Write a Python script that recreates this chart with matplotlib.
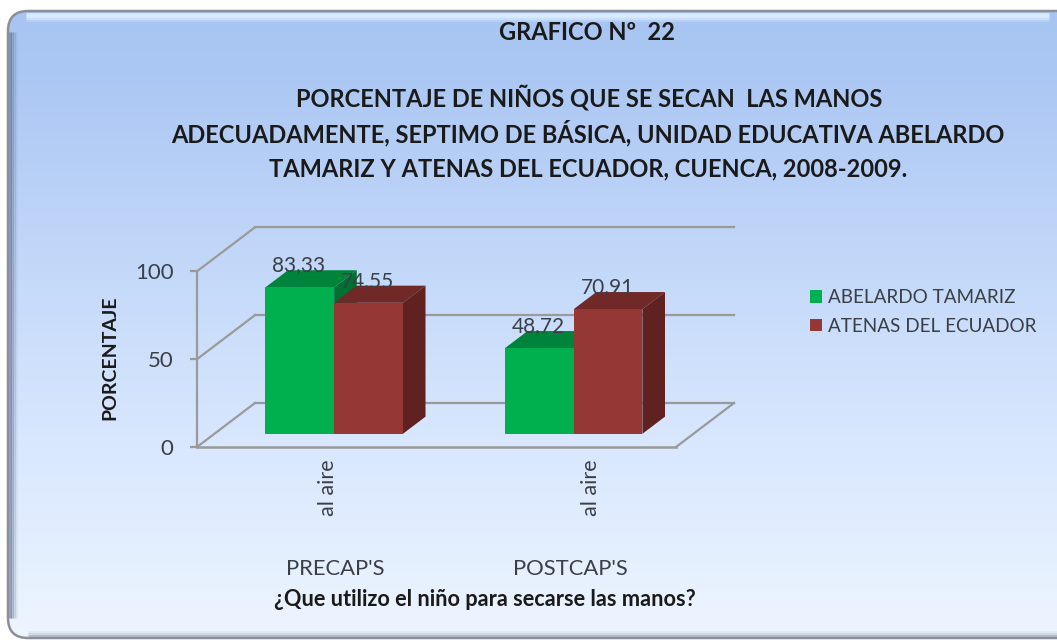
"""Grafico 22: hand washing survey, faux 3D bars on a glossy rounded panel."""

import numpy as np
import matplotlib

matplotlib.use("Agg")
import matplotlib.pyplot as plt
from matplotlib.colors import LinearSegmentedColormap
from matplotlib.patches import FancyBboxPatch, Polygon

# -- Data ---------------------------------------------------------------------

GROUPS = ["PRECAP'S", "POSTCAP'S"]
CATEGORY = "al aire"
SERIES = ["ABELARDO TAMARIZ", "ATENAS DEL ECUADOR"]
TAMARIZ = [83.33, 48.72]
ATENAS = [74.55, 70.91]
YTICKS = [0, 50, 100]
TITLE_TOP = "GRAFICO Nº  22"
TITLE_LINES = [
    "PORCENTAJE DE NIÑOS QUE SE SECAN  LAS MANOS",
    "ADECUADAMENTE, SEPTIMO DE BÁSICA, UNIDAD EDUCATIVA ABELARDO",
    "TAMARIZ Y ATENAS DEL ECUADOR, CUENCA, 2008-2009.",
]
YLABEL = "PORCENTAJE"
XLABEL = "¿Que utilizo el niño para secarse las manos?"

# -- Style --------------------------------------------------------------------

W, H = 1057, 640
GREEN = ("#00B04F", "#00843B", "#006F32")
RED = ("#953735", "#702927", "#5F2220")
GRID = "#9A9A9A"
TEXT = "#3A3F48"
DARK = "#1A1A1A"
BAR_W = 0.287
PX_X = 239.5  # pixels per category
PX_Y = 1.757  # pixels per percentage point
DEPTH_X = 58 / PX_X
DEPTH_Y = 44 / PX_Y
BAR_NEAR = 0.30
BAR_FAR = 0.69

plt.rcParams["font.family"] = ["Lato", "DejaVu Sans"]


def px(x, y):
    return x / W, 1 - y / H


def depth(x, v, d):
    return x + d * DEPTH_X, v + d * DEPTH_Y


def draw_bar(ax, x, value, colors, zorder, label):
    left, right = x, x + BAR_W
    fx, fy = depth(left, 0, BAR_NEAR)
    ax.bar(fx, value, BAR_W, align="edge", bottom=fy, color=colors[0], clip_on=False,
           zorder=zorder + 1, label=label, linewidth=0)
    top = [depth(left, value, BAR_NEAR), depth(right, value, BAR_NEAR),
           depth(right, value, BAR_FAR), depth(left, value, BAR_FAR)]
    side = [depth(right, 0, BAR_NEAR), depth(right, value, BAR_NEAR),
            depth(right, value, BAR_FAR), depth(right, 0, BAR_FAR)]
    ax.add_patch(Polygon(top, color=colors[1], lw=0, clip_on=False, zorder=zorder))
    ax.add_patch(Polygon(side, color=colors[2], lw=0, clip_on=False, zorder=zorder))


fig = plt.figure(figsize=(W / 100, H / 100), dpi=100, facecolor="white")

# Panel with vertical gradient, it runs off the right edge of the picture
bg = fig.add_axes([0, 0, 1, 1], zorder=0)
bg.set_xlim(0, W)
bg.set_ylim(H, 0)
bg.axis("off")
cmap = LinearSegmentedColormap.from_list(
    "panel", [(0, "#A8C4F1"), (0.1, "#ABC7F3"), (0.35, "#BFD5F8"), (0.7, "#D9E8FE"), (1, "#EDF5FF")])
grad = bg.imshow(np.linspace(0, 1, 256)[:, None], cmap=cmap, aspect="auto",
                 extent=(8, W, 638, 10), zorder=1)
bg.set_xlim(0, W)
bg.set_ylim(H, 0)
outline = FancyBboxPatch((8, 11), W + 30, 627, boxstyle="round,pad=0,rounding_size=20",
                         fc="none", ec="#8C8F98", lw=1.8, zorder=4)
bg.add_patch(outline)
grad.set_clip_path(outline)

# Bevel: light band on top, soft shade on the left and bottom
for y, alpha in zip((14, 16, 18, 20), (0.9, 0.9, 0.6, 0.3)):
    bg.plot([26, W - 8], [y, y], color="#DDEEFF", lw=2, alpha=alpha, zorder=3,
            solid_capstyle="butt")
for xs, alpha in zip((10, 12, 14, 16), (0.6, 0.4, 0.22, 0.1)):
    bg.plot([xs, xs], [32, 618], color="#5E6F92", lw=2, alpha=alpha, zorder=3,
            solid_capstyle="butt")
for y, alpha in zip((636, 634, 632), (0.35, 0.18, 0.08)):
    bg.plot([28, W], [y, y], color="#6A7080", lw=2, alpha=alpha, zorder=3,
            solid_capstyle="butt")

# Plot: front plane of the 3D box
ax = fig.add_axes([197 / W, 1 - 447 / H, 479 / W, 175.7 / H], zorder=2)
ax.patch.set_alpha(0)
ax.set_xlim(-0.5, 1.5)
ax.set_ylim(0, 100)
x = np.arange(len(GROUPS))

for s in ["top", "right", "bottom"]:
    ax.spines[s].set_visible(False)
ax.spines["left"].set_color(GRID)
ax.spines["left"].set_linewidth(1.6)
ax.set_yticks(YTICKS)
ax.tick_params(axis="y", length=5, width=1.6, color=GRID, labelsize=16, labelcolor=TEXT, pad=12)
ax.set_xticks([])

# Back wall, side wall, floor
x0, x1 = ax.get_xlim()
for v in YTICKS:
    bx, by = depth(x0, v, 1)
    ex, _ = depth(x1, v, 1)
    ax.plot([x0, bx], [v, by], color=GRID, lw=1.6, clip_on=False, zorder=1)
    ax.plot([bx, ex], [by, by], color=GRID, lw=1.6, clip_on=False, zorder=1)
ax.plot([x0, x1], [0, 0], color=GRID, lw=1.8, clip_on=False, zorder=1)
ax.plot([x1, depth(x1, 0, 1)[0]], [0, depth(x1, 0, 1)[1]], color=GRID, lw=1.6,
        clip_on=False, zorder=1)

# Bars and value labels
for vals, cols, name, shift, z in [(TAMARIZ, GREEN, SERIES[0], -BAR_W, 3),
                                   (ATENAS, RED, SERIES[1], 0, 5)]:
    for i, val in enumerate(vals):
        draw_bar(ax, x[i] + shift, val, cols, z, name if i == 0 else None)
        ax.annotate(f"{val:.2f}".replace(".", ","),
                    depth(x[i] + shift + BAR_W / 2, val, BAR_NEAR),
                    xytext=(-1, 22), textcoords="offset pixels", ha="center", va="center",
                    fontsize=15, color=TEXT, zorder=8, annotation_clip=False)

# Category and group labels
for i, off in zip(x, (11, 35)):
    ax.annotate(CATEGORY, (x[i], 0), xytext=(off, -41), textcoords="offset pixels",
                rotation=90, ha="center", va="center", fontsize=15.5, color=TEXT,
                annotation_clip=False)
for i, off in zip(x, (18, 14)):
    ax.annotate(GROUPS[i], (x[i], 0), xytext=(off, -122), textcoords="offset pixels",
                ha="center", va="center", fontsize=15.8, color=TEXT, annotation_clip=False)

ax.legend(loc="upper left", bbox_to_anchor=px(810, 289), bbox_transform=fig.transFigure,
          frameon=False, fontsize=13.6, labelcolor=TEXT, handlelength=0.63, handleheight=0.63,
          handletextpad=0.32, labelspacing=0.62, borderpad=0, borderaxespad=0)

# Titles and axis names
fig.text(*px(587, 32), TITLE_TOP, ha="center", va="center", fontsize=17,
         fontweight="bold", color=DARK)
for txt, cx, cy in zip(TITLE_LINES, (589, 588, 588), (98, 133, 169)):
    fig.text(*px(cx, cy), txt, ha="center", va="center", fontsize=17,
             fontweight="bold", color=DARK)
fig.text(*px(110, 358), YLABEL, rotation=90, ha="center", va="center", fontsize=14,
         fontweight="bold", color=DARK)
fig.text(*px(485, 600), XLABEL, ha="center", va="center", fontsize=15.7,
         fontweight="bold", color=DARK)

fig.savefig("out.png", dpi=100, facecolor="white")
